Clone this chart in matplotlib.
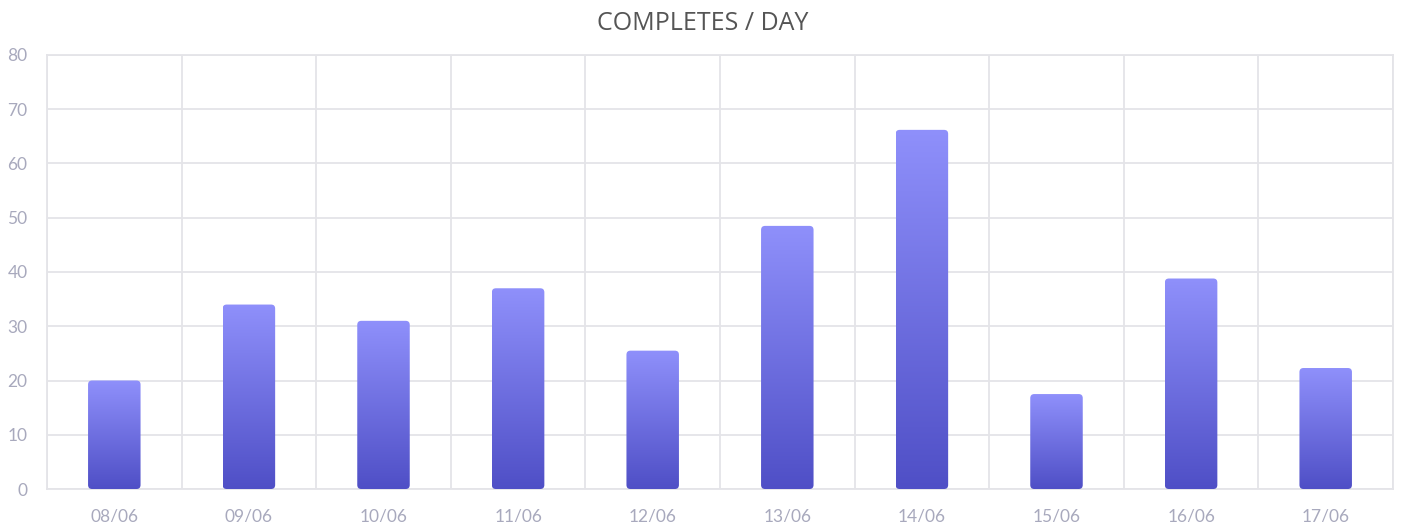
import matplotlib.pyplot as plt
import numpy as np
from matplotlib.colors import LinearSegmentedColormap
from matplotlib.patches import FancyBboxPatch

days = ["08/06", "09/06", "10/06", "11/06", "12/06", "13/06", "14/06", "15/06", "16/06", "17/06"]
completes = [20, 34, 31, 37, 25.5, 48.5, 66.2, 17.5, 38.8, 22.3]
y_ticks = [0, 10, 20, 30, 40, 50, 60, 70, 80]

TOP_COLOR = "#8f90fb"
BOTTOM_COLOR = "#4f4fc6"
GRID = "#e4e4e8"
TICK = "#a8a9bd"

fig = plt.figure(figsize=(14.05, 5.22), dpi=100)
ax = fig.add_axes([47 / 1405, 1 - 489 / 522, 1346 / 1405, 434 / 522])

ax.set_xlim(-0.5, len(days) - 0.5)
ax.set_ylim(0, 80)

# gradient bars clipped to rounded boxes
cmap = LinearSegmentedColormap.from_list("bar", [BOTTOM_COLOR, TOP_COLOR])
gradient = np.linspace(0, 1, 256).reshape(-1, 1)
width = 0.39
x_per_px = len(days) / 1346
y_per_px = 80 / 434
for i, value in enumerate(completes):
    box = FancyBboxPatch((i - width / 2, 0), width, value,
                         boxstyle="round,pad=0,rounding_size=0.03",
                         mutation_aspect=y_per_px / x_per_px,
                         facecolor="none", edgecolor="none", zorder=3)
    ax.add_patch(box)
    im = ax.imshow(gradient, cmap=cmap, origin="lower", aspect="auto",
                   extent=(i - width / 2, i + width / 2, 0, value), zorder=3)
    im.set_clip_path(box)

ax.set_xlim(-0.5, len(days) - 0.5)
ax.set_ylim(0, 80)

ax.set_xticks(range(len(days)))
ax.set_xticklabels(days)
ax.set_xticks(np.arange(-0.5, len(days), 1), minor=True)
ax.set_yticks(y_ticks)
ax.tick_params(axis="both", which="both", length=0, colors=TICK, labelsize=12.5)
ax.tick_params(axis="x", pad=14)
ax.tick_params(axis="y", pad=14)
for label in ax.get_xticklabels() + ax.get_yticklabels():
    label.set_fontfamily("Lato")

ax.grid(True, axis="y", color=GRID, linewidth=1.3, zorder=0)
ax.grid(True, axis="x", which="minor", color=GRID, linewidth=1.3, zorder=0)
ax.grid(False, axis="x", which="major")
for spine in ax.spines.values():
    spine.set_color(GRID)
    spine.set_linewidth(1.3)

fig.text(0.5, 1 - 24 / 522, "COMPLETES / DAY", ha="center", va="center",
         fontsize=18, color="#555555", family="Open Sans")

fig.savefig("out.png", dpi=100, facecolor="white")
